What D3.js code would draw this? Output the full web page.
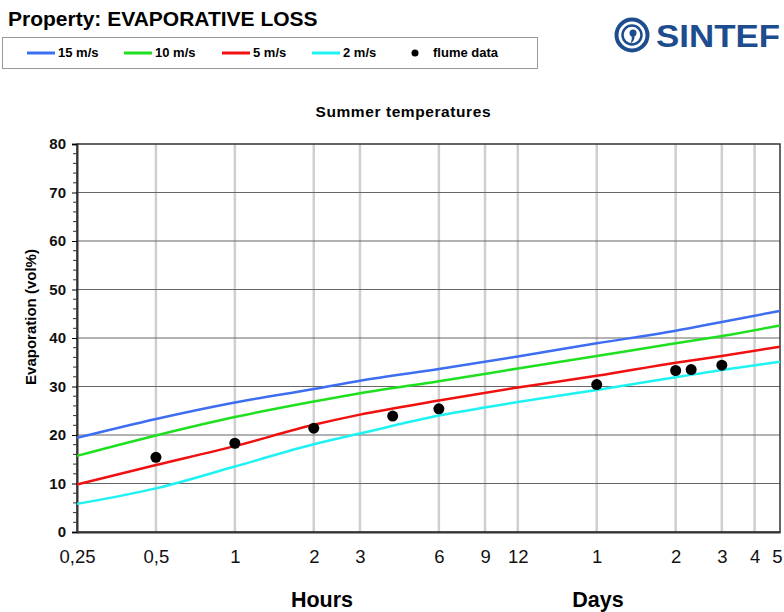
<!DOCTYPE html>
<html><head><meta charset="utf-8">
<script src="https://cdn.jsdelivr.net/npm/d3@7"></script>
<style>body{margin:0;background:#fff;} svg{display:block;font-family:"Liberation Sans",Arial,sans-serif;}</style>
</head><body>
<svg id="c" width="784" height="612"></svg>
<script>
// ---- data ----
const hours = [0.25, 0.5, 1, 2, 3, 6, 12, 24, 48, 72, 120];
const wind15 = [19.4, 23.3, 26.7, 29.5, 31.2, 33.6, 36.2, 38.9, 41.5, 43.3, 45.6];
const wind10 = [15.7, 19.9, 23.7, 26.9, 28.6, 31.1, 33.7, 36.3, 38.9, 40.4, 42.6];
const wind5  = [9.8, 13.8, 17.7, 22.1, 24.2, 27.1, 29.8, 32.2, 34.9, 36.3, 38.2];
const wind2  = [5.8, 9.0, 13.5, 18.1, 20.3, 24.0, 26.8, 29.3, 31.9, 33.4, 35.1];
const flumeHours = [0.5, 1, 2, 4, 6, 24, 48, 55, 72];
const flumeValues = [15.4, 18.3, 21.4, 23.9, 25.4, 30.4, 33.3, 33.5, 34.4];
const xTickHours = [0.25, 0.5, 1, 2, 3, 6, 9, 12, 24, 48, 72, 96, 120];
const xTickLabels = ["0,25", "0,5", "1", "2", "3", "6", "9", "12", "1", "2", "3", "4", "5"];
const yTicks = [0, 10, 20, 30, 40, 50, 60, 70, 80];
const seriesNames = ["15 m/s", "10 m/s", "5 m/s", "2 m/s"];
const seriesColors = ["#3d6ef2", "#1fe01f", "#f01010", "#1ff2f2"];
const seriesData = [wind15, wind10, wind5, wind2];

const svg = d3.select("#c");
const L = 77, R = 780, T = 144, B = 532;
const x = d3.scaleLog().domain([0.25, 120]).range([L, R]);
const y = d3.scaleLinear().domain([0, 80]).range([B, T]);
const FF = "Liberation Sans, Arial, sans-serif";

// title
svg.append("text").attr("x", 8).attr("y", 26).attr("font-size", 21).attr("font-weight", "bold").text("Property: EVAPORATIVE LOSS");

// legend box
svg.append("rect").attr("x", 2.5).attr("y", 37.5).attr("width", 535).attr("height", 31).attr("fill", "#fff").attr("stroke", "#999").attr("stroke-width", 1);
const legX = [27, 124, 222, 312];
seriesNames.forEach((n, i) => {
  svg.append("line").attr("x1", legX[i]).attr("x2", legX[i] + 28).attr("y1", 53).attr("y2", 53).attr("stroke", seriesColors[i]).attr("stroke-width", 3);
  svg.append("text").attr("x", legX[i] + 31).attr("y", 57).attr("font-size", 13).attr("font-weight", "bold").text(n);
});
svg.append("circle").attr("cx", 415).attr("cy", 53).attr("r", 3.5).attr("fill", "#000");
svg.append("text").attr("x", 433).attr("y", 57).attr("font-size", 13).attr("font-weight", "bold").text("flume data");

// logo
const blue = "#1d4d8e";
svg.append("circle").attr("cx", 632).attr("cy", 35).attr("r", 15.5).attr("fill", "none").attr("stroke", blue).attr("stroke-width", 4);
svg.append("circle").attr("cx", 632).attr("cy", 35).attr("r", 9.5).attr("fill", "none").attr("stroke", blue).attr("stroke-width", 2.5);
svg.append("circle").attr("cx", 633).attr("cy", 33).attr("r", 3.5).attr("fill", blue);
svg.append("path").attr("d", "M634,34 Q636,40 630,44 Q633,39 631,35 Z").attr("fill", blue);
svg.append("text").attr("x", 656).attr("y", 47).attr("font-size", 32).attr("font-weight", "bold").attr("fill", blue)
  .attr("textLength", 124).attr("lengthAdjust", "spacingAndGlyphs").text("SINTEF");

// subtitle
svg.append("text").attr("x", 403).attr("y", 117).attr("text-anchor", "middle").attr("font-size", 15.5).attr("font-weight", "bold")
  .attr("textLength", 175).attr("lengthAdjust", "spacing").text("Summer temperatures");

// vertical grid
svg.append("g").selectAll("line").data(xTickHours.slice(1, -1)).join("line")
  .attr("x1", d => x(d)).attr("x2", d => x(d)).attr("y1", T).attr("y2", B)
  .attr("stroke", "#cfcfcf").attr("stroke-width", 2.5);

// horizontal grid
svg.append("g").selectAll("line").data(yTicks.slice(1, -1)).join("line")
  .attr("x1", L).attr("x2", R).attr("y1", d => y(d)).attr("y2", d => y(d))
  .attr("stroke", "#666").attr("stroke-width", 1);

// frame
svg.append("rect").attr("x", L).attr("y", T).attr("width", R - L).attr("height", B - T)
  .attr("fill", "none").attr("stroke", "#333").attr("stroke-width", 1.5);

// y axis
const yAxis = d3.axisLeft(y).tickValues(yTicks).tickSize(5).tickPadding(6);
const gy = svg.append("g").attr("transform", `translate(${L},0)`).call(yAxis);
gy.select(".domain").attr("stroke", "#333").attr("stroke-width", 2);
gy.selectAll("text").attr("font-size", 15).attr("font-weight", "bold").attr("font-family", FF).attr("fill", "#111");
const minor = d3.range(0, 81, 2).filter(v => v % 10 !== 0);
svg.append("g").selectAll("line").data(minor).join("line")
  .attr("x1", L - 4).attr("x2", L).attr("y1", d => y(d)).attr("y2", d => y(d)).attr("stroke", "#333").attr("stroke-width", 1);

// y label
svg.append("text").attr("transform", `translate(36,317) rotate(-90)`).attr("text-anchor", "middle")
  .attr("font-size", 15).attr("font-weight", "bold").text("Evaporation (vol%)");

// x tick labels
const xAxis = d3.axisBottom(x).tickValues(xTickHours).tickFormat((d, i) => xTickLabels[i]).tickSize(0).tickPadding(18);
const gx = svg.append("g").attr("transform", `translate(0,${B})`).call(xAxis);
gx.select(".domain").attr("stroke", "#333").attr("stroke-width", 2);
gx.selectAll("text").attr("font-size", 18.5).attr("font-family", FF).attr("fill", "#111");
gx.selectAll(".tick").filter((d, i) => i === xTickHours.length - 1).select("text").attr("dx", -3);

svg.append("text").attr("x", 322).attr("y", 607).attr("text-anchor", "middle").attr("font-size", 21.5).attr("font-weight", "bold").text("Hours");
svg.append("text").attr("x", 598).attr("y", 607).attr("text-anchor", "middle").attr("font-size", 21.5).attr("font-weight", "bold").text("Days");

// curves
const line = d3.line().x(d => x(d[0])).y(d => y(d[1])).curve(d3.curveMonotoneX);
seriesData.forEach((vals, i) => {
  svg.append("path").datum(hours.map((h, j) => [h, vals[j]])).attr("d", line)
    .attr("fill", "none").attr("stroke", seriesColors[i]).attr("stroke-width", 2.5);
});

// flume dots
svg.append("g").selectAll("circle").data(flumeHours.map((h, i) => [h, flumeValues[i]])).join("circle")
  .attr("cx", d => x(d[0])).attr("cy", d => y(d[1])).attr("r", 5.5).attr("fill", "#000");
</script>
</body></html>
